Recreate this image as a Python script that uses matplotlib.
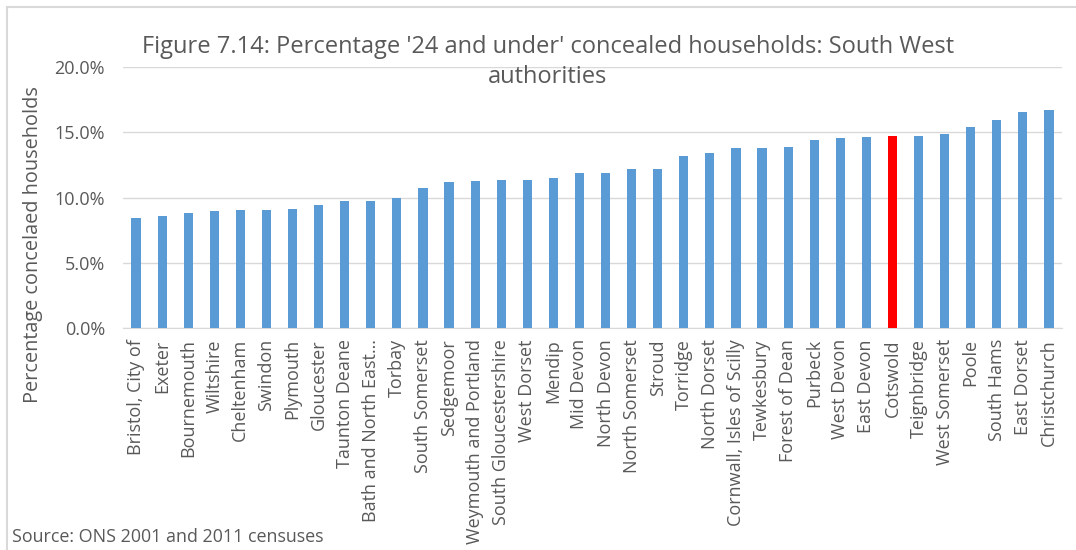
import matplotlib
matplotlib.use("Agg")
import matplotlib.pyplot as plt
from matplotlib.patches import Rectangle
from matplotlib.ticker import FuncFormatter, MultipleLocator

plt.rcParams['font.family'] = ['Open Sans', 'DejaVu Sans']

authorities = [
    "Bristol, City of", "Exeter", "Bournemouth", "Wiltshire", "Cheltenham",
    "Swindon", "Plymouth", "Gloucester", "Taunton Deane", "Bath and North East\u2026",
    "Torbay", "South Somerset", "Sedgemoor", "Weymouth and Portland",
    "South Gloucestershire", "West Dorset", "Mendip", "Mid Devon", "North Devon",
    "North Somerset", "Stroud", "Torridge", "North Dorset",
    "Cornwall, Isles of Scilly", "Tewkesbury", "Forest of Dean", "Purbeck",
    "West Devon", "East Devon", "Cotswold", "Teignbridge", "West Somerset",
    "Poole", "South Hams", "East Dorset", "Christchurch",
]
pct_24_under = [
    8.46, 8.56, 8.79, 8.97, 9.04, 9.04, 9.12, 9.45, 9.71, 9.71,
    9.99, 10.70, 11.19, 11.29, 11.37, 11.37, 11.47, 11.86, 11.86,
    12.21, 12.21, 13.21, 13.44, 13.77, 13.77, 13.85, 14.38,
    14.54, 14.61, 14.69, 14.69, 14.87, 15.38, 15.94, 16.53, 16.68,
]
highlight = "Cotswold"

blue = "#5b9bd5"
red = "#ff0000"
text_grey = "#595959"

fig = plt.figure(figsize=(10.76, 5.50), dpi=100)
ax = fig.add_axes([0.1143, 0.4036, 0.8727, 0.4744])

colors = [red if a == highlight else blue for a in authorities]
x = range(len(authorities))
ax.bar(x, pct_24_under, width=0.35, color=colors, zorder=3)

ax.set_ylim(0, 20)
ax.set_xlim(-0.5, len(authorities) - 0.5)
ax.yaxis.set_major_locator(MultipleLocator(5))
ax.yaxis.set_major_formatter(FuncFormatter(lambda v, p: f"{v:.1f}%"))
ax.grid(axis='y', color='#d9d9d9', linewidth=1, zorder=0)
for side in ('top', 'right', 'left'):
    ax.spines[side].set_visible(False)
ax.spines['bottom'].set_color('#d9d9d9')
ax.tick_params(axis='both', length=0, colors=text_grey)
ax.tick_params(axis='y', pad=13, labelsize=13)
ax.tick_params(axis='x', pad=8)
ax.set_xticks(list(x))
ax.set_xticklabels(authorities, rotation=90, fontsize=13, color=text_grey)

fig.text(33 / 1076, 1 - 245 / 550, "Percentage concelaed households", rotation=90,
         ha='center', va='center', fontsize=14.3, color=text_grey)

fig.text(0.509, 1 - 62 / 550,
         "Figure 7.14: Percentage '24 and under' concealed households: South West\nauthorities",
         ha='center', va='center', fontsize=17, color=text_grey, linespacing=1.35)

fig.text(12 / 1076, 1 - 537 / 550, "Source: ONS 2001 and 2011 censuses", ha='left', va='center',
         fontsize=12.9, color=text_grey)

# chart frame
fig.add_artist(Rectangle((7 / 1076, -0.1), 1.2, (543 / 550) + 0.1, transform=fig.transFigure,
                         fill=False, edgecolor='#d9d9d9', linewidth=1.5))

fig.savefig("out.png", dpi=100)
